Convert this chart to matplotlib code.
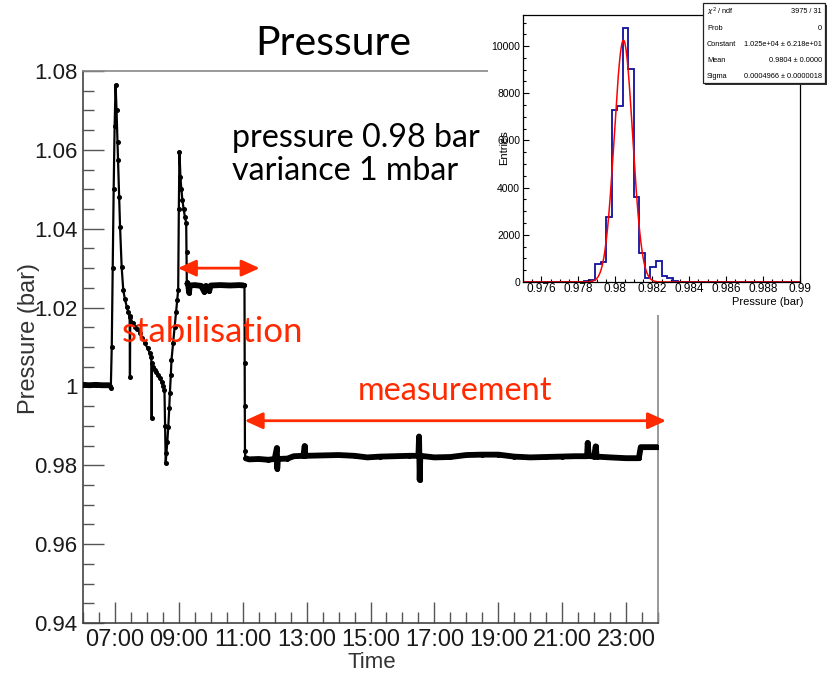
import numpy as np
import matplotlib
matplotlib.use("Agg")
import matplotlib.pyplot as plt
from matplotlib.patches import Rectangle
from matplotlib.ticker import MultipleLocator, FixedLocator, FuncFormatter

# pressure log, time in hours of the day, pressure in bar
time_h = [6.00, 6.20, 6.40, 6.60, 6.80, 6.84, 6.87, 6.90, 6.93, 6.96, 6.99, 7.02,
          7.05, 7.08, 7.10, 7.13, 7.16, 7.21, 7.26, 7.31, 7.37, 7.42, 7.46, 7.47,
          7.48, 7.55, 7.63, 7.70, 7.78, 7.86, 7.94, 8.02, 8.09, 8.14, 8.15, 8.16,
          8.20, 8.25, 8.30, 8.35, 8.40, 8.46, 8.51, 8.55, 8.57, 8.59, 8.61, 8.64,
          8.67, 8.70, 8.72, 8.75, 8.77, 8.82, 8.87, 8.91, 8.95, 8.98, 9.00, 9.02,
          9.05, 9.08, 9.11, 9.15, 9.19, 9.23, 9.24, 9.25, 9.30, 9.32, 9.34, 9.50,
          9.70, 9.80, 9.85, 9.95, 10.00, 10.30, 10.60, 10.90, 11.04, 11.055, 11.06,
          11.065, 11.07, 11.08, 11.20, 11.50, 11.80, 12.00, 12.07, 12.08, 12.10,
          12.40, 12.60, 12.90, 12.94, 12.96, 13.50, 14.00, 14.50, 14.90, 15.30,
          15.80, 16.20, 16.50, 16.52, 16.54, 16.56, 17.00, 17.50, 18.00, 18.50,
          19.00, 19.50, 20.00, 20.50, 21.00, 21.40, 21.78, 21.80, 21.83, 22.00,
          22.05, 22.08, 22.50, 23.00, 23.40, 23.46, 23.70, 24.00]
pressure = [1.0004, 1.0003, 1.0004, 1.0003, 1.0003, 1.0002, 0.9995, 1.0100, 1.0300, 1.0500, 1.0660, 1.0765,
            1.0700, 1.0620, 1.0574, 1.0480, 1.0405, 1.0303, 1.0245, 1.0222, 1.0202, 1.0188, 1.0178, 1.0025,
            1.0175, 1.0162, 1.0151, 1.0145, 1.0136, 1.0122, 1.0110, 1.0097, 1.0085, 1.0075, 0.9920, 1.0060,
            1.0050, 1.0042, 1.0036, 1.0030, 1.0022, 1.0012, 1.0000, 0.9990, 0.9900, 0.9806, 0.9830, 0.9860,
            0.9898, 0.9945, 0.9984, 1.0030, 1.0067, 1.0110, 1.0151, 1.0190, 1.0220, 1.0245, 1.0450, 1.0595,
            1.0531, 1.0500, 1.0473, 1.0450, 1.0430, 1.0415, 1.0340, 1.0265, 1.0254, 1.0238, 1.0256, 1.0257,
            1.0255, 1.0240, 1.0255, 1.0242, 1.0256, 1.0257, 1.0256, 1.0257, 1.0256, 1.0256, 1.0060,
            0.9950, 0.9835, 0.9818, 0.9815, 0.9816, 0.9814, 0.9816, 0.9844, 0.9791, 0.9816,
            0.9817, 0.9823, 0.9824, 0.9849, 0.9824, 0.9825, 0.9826, 0.9824, 0.9820, 0.9822,
            0.9823, 0.9824, 0.9824, 0.9873, 0.9763, 0.9824, 0.9820, 0.9821, 0.9826, 0.9827,
            0.9827, 0.9822, 0.9820, 0.9821, 0.9822, 0.9823, 0.9823, 0.9857, 0.9824, 0.9822,
            0.9848, 0.9822, 0.9820, 0.9818, 0.9818, 0.9846, 0.9846, 0.9846]

# histogram of the measurement period (50 bins from 0.975 to 0.99 bar)
hist_lo, hist_hi = 0.975, 0.99
hist_counts = [0, 0, 0, 0, 0, 0, 0, 0, 0, 0,
               0, 30, 80, 780, 850, 2740, 7300, 7480, 10780, 9050,
               3590, 1230, 170, 640, 890, 255, 185, 40, 15, 0,
               0, 0, 0, 0, 0, 0, 0, 0, 0, 0,
               0, 0, 0, 0, 0, 0, 0, 0, 0, 0]
# gaussian fit parameters from the stat box
fit_const, fit_mean, fit_sigma = 1.025e4, 0.98044, 0.0004966
stat_rows = [(r"$\chi^2$ / ndf", "3975 / 31"),
             ("Prob", "0"),
             ("Constant", "1.025e+04 \u00b1 6.218e+01"),
             ("Mean", "0.9804 \u00b1 0.0000"),
             ("Sigma", "0.0004966 \u00b1 0.0000018")]

red = "#ff2a00"
W, H = 830, 675
def fx(px):
    return px / W
def fy(py):
    return 1 - py / H

plt.rcParams['font.family'] = ['Liberation Sans', 'DejaVu Sans']
fig = plt.figure(figsize=(8.3, 6.75), dpi=100)

# ---------------- main time series
ax = fig.add_axes([fx(83), fy(623), fx(658 - 83), (623 - 71) / H])
t = np.array(time_h)
p = np.array(pressure)
ax.plot(t, p, '-', color='black', lw=1.6, marker='o', ms=2.6, zorder=3)
# noisy flat stretches show up as a thick band
flat = (t < 6.85) | ((t > 9.245) & (t < 11.05)) | (t > 11.075)
ax.plot(t, np.where(flat, p, np.nan), '-', color='black', lw=4.2, solid_capstyle='butt', zorder=3)

ax.set_xlim(6, 24)
ax.set_ylim(0.94, 1.08)
ax.xaxis.set_major_locator(FixedLocator([7, 9, 11, 13, 15, 17, 19, 21, 23]))
ax.xaxis.set_minor_locator(MultipleLocator(0.5))
ax.xaxis.set_major_formatter(FuncFormatter(lambda v, pos: "%02d:00" % int(round(v))))
ax.yaxis.set_major_locator(MultipleLocator(0.02))
ax.yaxis.set_minor_locator(MultipleLocator(0.005))
ax.yaxis.set_major_formatter(FuncFormatter(lambda v, pos: "%g" % round(v, 3)))
ax.tick_params(which='both', direction='in', color='#555555', width=1,
               labelcolor='#1a1a1a', top=False, right=False)
ax.tick_params(axis='x', labelsize=17)
ax.tick_params(axis='y', labelsize=16)
ax.tick_params(which='major', length=15, pad=4)
ax.tick_params(which='minor', length=8)
for side in ['left', 'bottom']:
    ax.spines[side].set_color('#444444')
for side in ['top', 'right']:
    ax.spines[side].set_color('#888888')
for s in ax.spines.values():
    s.set_linewidth(1.2)

fig.text(fx(29), fy(339), "Pressure (bar)", rotation=90, ha='center', va='center',
         fontsize=17, color='#333333')
fig.text(fx(372), fy(662), "Time", ha='center', va='center', fontsize=16, color='#333333')

# annotations
arrow = dict(arrowstyle='<|-|>,head_length=0.55,head_width=0.25',
             color=red, lw=2, shrinkA=0, shrinkB=0, mutation_scale=20)
ax.annotate('', xy=(8.97, 1.030), xytext=(11.53, 1.030), annotation_clip=False, arrowprops=arrow)
ax.annotate('', xy=(11.06, 0.9913), xytext=(24.25, 0.9913), annotation_clip=False, arrowprops=arrow)
fig.text(fx(122), fy(341.7), "stabilisation", color=red, fontsize=25, fontfamily='Lato')
fig.text(fx(358), fy(400), "measurement", color=red, fontsize=23.3, fontfamily='Lato')
fig.text(fx(232), fy(146.7), "pressure 0.98 bar", color='black', fontsize=23.2, fontfamily='Lato')
fig.text(fx(232), fy(180), "variance 1 mbar", color='black', fontsize=23.2, fontfamily='Lato')
fig.text(fx(333), fy(55), "Pressure", ha='center', color='black', fontsize=29.5, fontfamily='Lato')

# ---------------- inset with histogram
fig.patches.append(Rectangle((fx(488), fy(315)), 1 - fx(488), 315 / H, transform=fig.transFigure,
                             facecolor='white', edgecolor='none', zorder=1))
ax2 = fig.add_axes([fx(523), fy(282), fx(800 - 523), (282 - 15) / H], zorder=2)
edges = np.linspace(hist_lo, hist_hi, len(hist_counts) + 1)
ax2.stairs(hist_counts, edges, color='#10109a', lw=1.3)
xs = np.linspace(hist_lo, hist_hi, 600)
ax2.plot(xs, fit_const * np.exp(-0.5 * ((xs - fit_mean) / fit_sigma) ** 2), color='red', lw=1.1)
ax2.set_xlim(hist_lo, hist_hi)
ax2.set_ylim(0, max(hist_counts) * 1.05)
ax2.xaxis.set_major_locator(MultipleLocator(0.002))
ax2.xaxis.set_minor_locator(MultipleLocator(0.0005))
ax2.xaxis.set_major_formatter(FuncFormatter(lambda v, pos: "%g" % round(v, 3)))
ax2.yaxis.set_major_locator(MultipleLocator(2000))
ax2.yaxis.set_minor_locator(MultipleLocator(500))
ax2.tick_params(which='both', direction='in', width=0.8)
ax2.tick_params(axis='x', labelsize=8.5, pad=1)
ax2.tick_params(axis='y', labelsize=7.5, pad=2)
ax2.tick_params(which='major', length=4)
ax2.tick_params(which='minor', length=2)
for s in ax2.spines.values():
    s.set_linewidth(0.9)
fig.text(fx(504), fy(148), "Entries", rotation=90, ha='center', va='center', fontsize=8, zorder=3)
fig.text(fx(803), fy(302), "Pressure (bar)", ha='right', va='center', fontsize=8, zorder=3)

# stat box with shadow
fig.patches.append(Rectangle((fx(705), fy(85)), fx(825 - 703), 80 / H, transform=fig.transFigure,
                             facecolor='#333333', edgecolor='none', zorder=3))
fig.patches.append(Rectangle((fx(703), fy(83)), fx(825 - 703), 80 / H, transform=fig.transFigure,
                             facecolor='white', edgecolor='#222222', lw=0.9, zorder=4))
row_y = [11.7, 28.3, 44.3, 60, 76]
for (lab, val), yy in zip(stat_rows, row_y):
    fig.text(fx(707), fy(yy), lab, ha='left', va='center', fontsize=5.3, zorder=5)
    fig.text(fx(822), fy(yy), val, ha='right', va='center', fontsize=5.3, zorder=5)

fig.savefig("out.png", dpi=100)
